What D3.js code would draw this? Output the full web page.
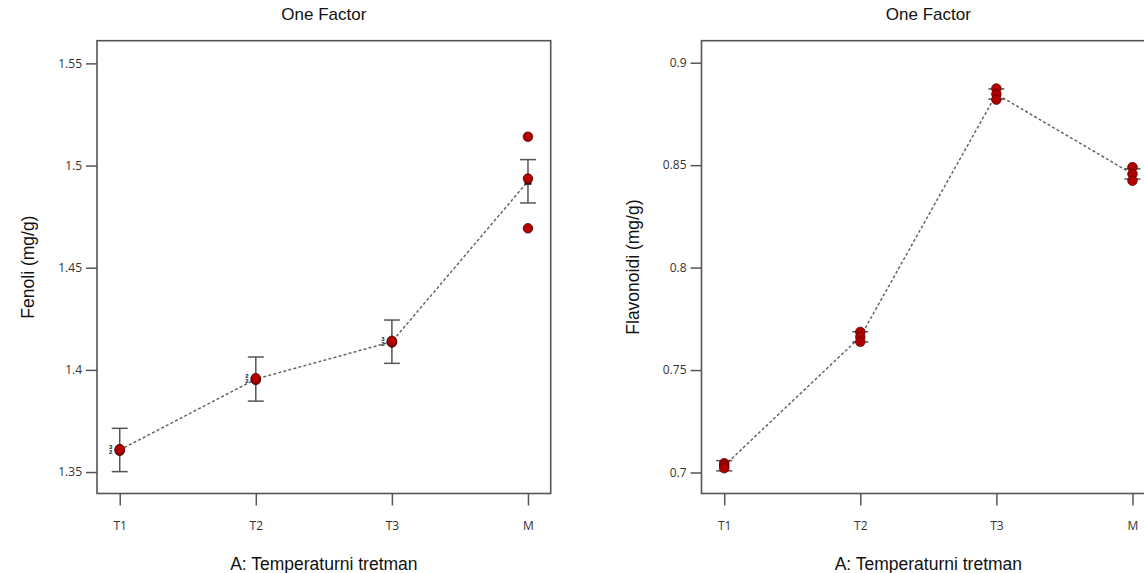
<!DOCTYPE html>
<html>
<head>
<meta charset="utf-8">
<script src="https://cdn.jsdelivr.net/npm/d3@7"></script>
<style>
  html, body { margin: 0; padding: 0; background: #fff; }
  svg { display: block; }
  text { font-family: "Liberation Sans", Arial, sans-serif; }
</style>
</head>
<body>
<svg id="chart" width="1144" height="573"></svg>
<script>
// Treatment levels on the x axis
const categories = ["T1", "T2", "T3", "M"];

// Phenols (mg/g): replicate measurements, group means and error-bar half widths
const fenoliPoints = [
  [1.3604, 1.3608, 1.3612],
  [1.3951, 1.3955, 1.3959],
  [1.4134, 1.4138, 1.4142],
  [1.5141, 1.4936, 1.4693]
];
const fenoliMeans = [1.3608, 1.3955, 1.4138, 1.4923];
const fenoliErr = [0.0106, 0.0108, 0.0106, 0.0106];
const fenoliTicks = [1.35, 1.4, 1.45, 1.5, 1.55];
const fenoliTickLabels = ["1.35", "1.4", "1.45", "1.5", "1.55"];
// Counts of coincident runs printed beside overlapping points
const fenoliCounts = [["3", "2"], ["2", "2"], ["3", "2"], []];

// Flavonoids (mg/g)
const flavPoints = [
  [0.7045, 0.7033, 0.7021],
  [0.7686, 0.7662, 0.7638],
  [0.8874, 0.8847, 0.8820],
  [0.8490, 0.8457, 0.8424]
];
const flavMeans = [0.7033, 0.7662, 0.8847, 0.8457];
const flavErr = [0.0025, 0.0025, 0.0025, 0.0025];
const flavTicks = [0.7, 0.75, 0.8, 0.85, 0.9];
const flavTickLabels = ["0.7", "0.75", "0.8", "0.85", "0.9"];

const svg = d3.select("#chart");

function drawPanel(cfg) {
  const { left, right, top, bottom } = cfg;
  const g = svg.append("g");

  const x = d3.scalePoint().domain(categories).range([left, right]).padding(0.167);
  const y = d3.scaleLinear().domain(cfg.yDomain).range([bottom, top]);

  // Plot frame
  g.append("rect")
    .attr("x", left).attr("y", top)
    .attr("width", right - left).attr("height", bottom - top)
    .attr("fill", "none").attr("stroke", "#555").attr("stroke-width", 1.6);

  // Y axis
  const yAxis = d3.axisLeft(y)
    .tickValues(cfg.ticks)
    .tickFormat((d, i) => cfg.tickLabels[i])
    .tickSizeOuter(0).tickSize(11).tickPadding(4);
  const ya = g.append("g").attr("transform", `translate(${left},0)`).call(yAxis);
  ya.select(".domain").remove();
  ya.selectAll(".tick line").attr("stroke", "#555").attr("stroke-width", 1.5);
  ya.selectAll(".tick text").attr("fill", "#333").style("font-size", "12px")
    .style("font-family", "'Open Sans', 'Liberation Sans', sans-serif");

  // X axis
  const xAxis = d3.axisBottom(x).tickSizeOuter(0).tickSize(12).tickPadding(16);
  const xa = g.append("g").attr("transform", `translate(0,${bottom})`).call(xAxis);
  xa.select(".domain").remove();
  xa.selectAll(".tick line").attr("stroke", "#555").attr("stroke-width", 1.5);
  xa.selectAll(".tick text").attr("fill", "#333").style("font-size", "12px")
    .style("font-family", "'Open Sans', 'Liberation Sans', sans-serif");

  // Titles
  g.append("text")
    .attr("x", (left + right) / 2).attr("y", 20)
    .attr("text-anchor", "middle").attr("fill", "#111")
    .style("font-size", "17px").text("One Factor");
  g.append("text")
    .attr("x", (left + right) / 2).attr("y", 570)
    .attr("text-anchor", "middle").attr("fill", "#111")
    .style("font-size", "17.5px").text("A: Temperaturni tretman");
  g.append("text")
    .attr("transform", `translate(${left - 63},${(top + bottom) / 2}) rotate(-90)`)
    .attr("text-anchor", "middle").attr("fill", "#111")
    .style("font-size", "17.5px").text(cfg.yTitle);

  // Dotted line through the group means
  const line = d3.line().x((d, i) => x(categories[i])).y(d => y(d));
  g.append("path")
    .datum(cfg.means)
    .attr("d", line)
    .attr("fill", "none").attr("stroke", "#666")
    .attr("stroke-width", 1.5).attr("stroke-dasharray", "3,2.2");

  // Error bars
  const cap = 8;
  cfg.means.forEach((m, i) => {
    const cx = x(categories[i]);
    const e = cfg.err[i];
    const eg = g.append("g").attr("stroke", "#555").attr("stroke-width", 1.5);
    eg.append("line").attr("x1", cx).attr("x2", cx).attr("y1", y(m + e)).attr("y2", y(m - e));
    eg.append("line").attr("x1", cx - cap).attr("x2", cx + cap).attr("y1", y(m + e)).attr("y2", y(m + e));
    eg.append("line").attr("x1", cx - cap).attr("x2", cx + cap).attr("y1", y(m - e)).attr("y2", y(m - e));
  });

  // Mean markers
  cfg.means.forEach((m, i) => {
    g.append("rect")
      .attr("x", x(categories[i]) - 3.5).attr("y", y(m) - 3.5)
      .attr("width", 7).attr("height", 7).attr("fill", "#111");
  });

  // Replicate points
  cfg.points.forEach((pts, i) => {
    g.selectAll(null).data(pts).enter().append("circle")
      .attr("cx", x(categories[i])).attr("cy", d => y(d))
      .attr("r", 4.8)
      .attr("fill", "#b00000").attr("stroke", "#5a0000").attr("stroke-width", 0.8);
  });

  // Overlap counts
  if (cfg.counts) {
    cfg.counts.forEach((labels, i) => {
      labels.forEach((t, k) => {
        g.append("text")
          .attr("x", x(categories[i]) - 9)
          .attr("y", y(cfg.means[i]) - 1 + k * 5)
          .attr("text-anchor", "middle").attr("fill", "#111")
          .style("font-size", "6px").style("font-weight", "bold").text(t);
      });
    });
  }
}

drawPanel({
  left: 97, right: 550.7, top: 40.7, bottom: 493.5,
  yDomain: [1.3395, 1.5611],
  ticks: fenoliTicks, tickLabels: fenoliTickLabels,
  points: fenoliPoints, means: fenoliMeans, err: fenoliErr,
  counts: fenoliCounts,
  yTitle: "Fenoli (mg/g)"
});

drawPanel({
  left: 701.5, right: 1155.2, top: 40.7, bottom: 493.5,
  yDomain: [0.68975, 0.91074],
  ticks: flavTicks, tickLabels: flavTickLabels,
  points: flavPoints, means: flavMeans, err: flavErr,
  counts: null,
  yTitle: "Flavonoidi (mg/g)"
});
</script>
</body>
</html>
